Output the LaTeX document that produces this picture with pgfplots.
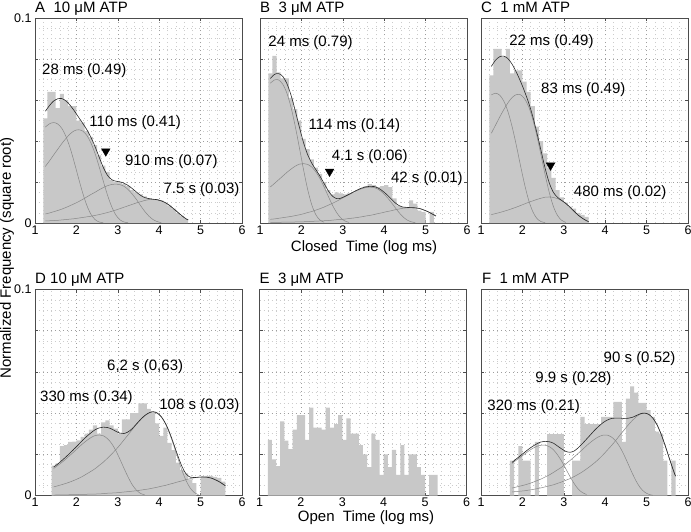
\documentclass[border=0pt]{standalone}
\usepackage{fontspec}
\setmainfont{Liberation Sans}
\usepackage{pgfplots}
\usepackage{pgfplotstable}
\pgfplotsset{compat=1.18}

\definecolor{barc}{RGB}{200,200,200}
\definecolor{compc}{RGB}{135,135,135}
\definecolor{totc}{RGB}{40,40,40}
\newcommand\fa{\fontsize{15}{17}\selectfont}

% x = bin centre (log ms), bar = histogram, tot = sum fit, c1.. = components
\pgfplotstableread{
x bar tot c1 c2 c3 c4
1.25 .051 .0545 .0468 .0276 .0044 .0010
1.35 .064 .0573 .0484 .0303 .0049 .0011
1.45 .064 .0595 .0490 .0332 .0055 .0012
1.55 .056 .0606 .0483 .0360 .0061 .0013
1.65 .063 .0607 .0461 .0388 .0068 .0015
1.75 .060 .0595 .0421 .0413 .0076 .0017
1.85 .057 .0574 .0365 .0435 .0085 .0019
1.95 .057 .0547 .0295 .0450 .0094 .0021
2.05 .050 .0517 .0220 .0455 .0104 .0024
2.15 .049 .0487 .0148 .0449 .0115 .0027
2.25 .045 .0456 .0087 .0428 .0127 .0030
2.35 .042 .0418 .0043 .0391 .0139 .0033
2.45 .038 .0373 .0017 .0339 .0150 .0037
2.55 .033 .0321 .0005 .0274 .0162 .0041
2.65 .028 .0271 .0001 .0204 .0173 .0046
2.75 .025 .0233 nan .0137 .0182 .0051
2.85 .021 .0212 nan .0081 .0188 .0057
2.95 .020 .0204 nan .0040 .0190 .0063
3.05 .020 .0201 nan .0016 .0187 .0070
3.15 .019 .0194 nan .0005 .0179 .0077
3.25 .018 .0183 nan .0001 .0163 .0084
3.35 .016 .0168 nan nan .0141 .0091
3.45 .015 .0151 nan nan .0115 .0098
3.55 .014 .0135 nan nan .0085 .0104
3.65 .013 .0124 nan nan .0057 .0110
3.75 .012 .0119 nan nan .0034 .0114
3.85 .0115 .0116 nan nan .0017 .0115
3.95 .0115 .0114 nan nan .0007 .0113
4.05 .011 .0108 nan nan .0002 .0108
4.15 .010 .0099 nan nan nan .0099
4.25 .0085 .0086 nan nan nan .0086
4.35 .007 .0069 nan nan nan .0069
4.45 .005 .0052 nan nan nan .0052
4.55 .0035 .0035 nan nan nan .0035
4.65 .002 .0020 nan nan nan .0020
4.70 nan .0015 nan nan nan .0015
}\tA

\pgfplotstableread{
x bar tot c1 c2 c3 c4
1.25 .073 .0705 .0682 .0176 .0018 .0003
1.35 .0815 .0725 .0698 .0193 .0020 .0003
1.45 .0735 .0729 .0698 .0211 .0023 .0003
1.55 .0705 .0715 .0677 .0229 .0026 .0004
1.65 .0705 .0680 .0633 .0247 .0029 .0004
1.75 .061 .0623 .0564 .0263 .0032 .0004
1.85 .0555 .0549 .0473 .0277 .0036 .0005
1.95 .050 .0469 .0369 .0287 .0040 .0006
2.05 .041 .0393 .0262 .0290 .0045 .0006
2.15 .036 .0334 .0165 .0286 .0051 .0007
2.25 .031 .0292 .0089 .0273 .0056 .0008
2.35 .027 .0260 .0040 .0249 .0063 .0009
2.45 .024 .0228 .0014 .0216 .0070 .0010
2.55 .020 .0192 .0004 .0175 .0078 .0011
2.65 .016 .0157 nan .0130 .0087 .0012
2.75 .014 .0131 nan .0087 .0096 .0014
2.85 .015 .0119 nan .0051 .0106 .0016
2.95 .0145 .0121 nan .0025 .0117 .0017
3.05 .014 .0130 nan .0010 .0128 .0019
3.15 .0145 .0140 nan .0003 .0138 .0022
3.25 .015 .0151 nan nan .0149 .0024
3.35 .016 .0161 nan nan .0159 .0027
3.45 .017 .0170 nan nan .0167 .0030
3.55 .018 .0176 nan nan .0173 .0034
3.65 .019 .0179 nan nan .0175 .0037
3.75 .0185 .0178 nan nan .0173 .0041
3.85 .0175 .0171 nan nan .0165 .0046
3.95 .018 .0158 nan nan .0150 .0050
4.05 .0185 .0141 nan nan .0130 .0055
4.15 .0175 .0121 nan nan .0106 .0059
4.25 .012 .0101 nan nan .0079 .0064
4.35 .0085 .0086 nan nan .0053 .0068
4.45 .0078 .0078 nan nan .0031 .0072
4.55 .0078 .0076 nan nan .0015 .0074
4.65 .011 .0075 nan nan .0006 .0075
4.75 .0095 .0074 nan nan .0002 .0074
4.85 .006 .0071 nan nan nan .0071
4.95 .0054 .0064 nan nan nan .0064
5.05 0 .0056 nan nan nan .0056
5.15 .0054 .0045 nan nan nan .0045
5.25 nan .0034 nan nan nan .0034
}\tB

\pgfplotstableread{
x bar tot c1 c2 c3
1.25 .072 .0764 .0625 .0438 .0041
1.35 .085 .0794 .0633 .0477 .0046
1.45 .085 .0811 .0624 .0516 .0051
1.55 .081 .0814 .0595 .0553 .0057
1.65 .085 .0802 .0544 .0586 .0063
1.75 .073 .0775 .0471 .0612 .0070
1.85 .0745 .0737 .0382 .0626 .0077
1.95 .0745 .0693 .0284 .0626 .0085
2.05 .069 .0643 .0191 .0607 .0093
2.15 .064 .0587 .0112 .0568 .0101
2.25 .057 .0520 .0056 .0506 .0108
2.35 .047 .0440 .0022 .0425 .0115
2.45 .040 .0353 .0007 .0331 .0121
2.55 .034 .0266 .0002 .0235 .0126
2.65 .027 .0195 nan .0148 .0127
2.75 .022 .0149 nan .0080 .0125
2.85 .016 .0125 nan .0036 .0119
2.95 .0125 .0110 nan .0013 .0109
3.05 .010 .0095 nan .0003 .0095
3.15 .008 .0077 nan nan .0077
3.25 .007 .0057 nan nan .0057
3.35 .005 .0038 nan nan .0038
3.45 .004 .0023 nan nan .0023
3.55 .003 .0011 nan nan .0011
3.60 nan .0007 nan nan .0007
}\tC

\pgfplotstableread{
x bar tot c1 c2 c3
1.45 .0145 .0138 .0131 .0042 .0002
1.55 .0156 .0153 .0146 .0047 .0003
1.65 .0240 .0170 .0161 .0053 .0003
1.75 .0245 .0188 .0178 .0059 .0003
1.85 .0260 .0207 .0196 .0066 .0004
1.95 .0262 .0227 .0214 .0074 .0004
2.05 .0268 .0247 .0233 .0083 .0005
2.15 .0285 .0268 .0251 .0093 .0005
2.25 .0300 .0287 .0267 .0105 .0006
2.35 .0320 .0304 .0281 .0117 .0007
2.45 .0340 .0319 .0291 .0130 .0007
2.55 .0300 .0328 .0294 .0146 .0008
2.65 .0355 .0332 .0290 .0162 .0009
2.75 .0365 .0330 .0276 .0181 .0011
2.85 .0340 .0323 .0253 .0201 .0012
2.95 .0325 .0312 .0219 .0222 .0013
3.05 .0300 .0303 .0177 .0245 .0015
3.15 .0370 .0301 .0132 .0270 .0017
3.25 .0370 .0309 .0089 .0295 .0019
3.35 .0400 .0325 .0052 .0320 .0021
3.45 .0400 .0347 .0026 .0346 .0023
3.55 .0447 .0369 .0010 .0368 .0026
3.65 .0447 .0388 .0003 .0387 .0029
3.75 .0420 .0401 nan .0400 .0032
3.85 .0400 .0407 nan .0405 .0036
3.95 .0350 .0401 nan .0399 .0040
4.05 .0290 .0383 nan .0381 .0045
4.15 .0330 .0351 nan .0348 .0049
4.25 .0255 .0306 nan .0301 .0055
4.35 .0220 .0251 nan .0244 .0060
4.45 .0160 .0193 nan .0182 .0066
4.55 .0125 .0141 nan .0122 .0071
4.65 .0108 .0105 nan .0072 .0077
4.75 .0078 .0089 nan .0036 .0082
4.85 .0060 .0087 nan .0014 .0086
4.95 0 .0089 nan .0004 .0089
5.05 .0088 .0090 nan nan .0090
5.15 .0095 .0089 nan nan .0089
5.25 .0095 .0085 nan nan .0085
5.35 .0090 .0077 nan nan .0077
5.45 .0085 .0067 nan nan .0067
5.55 .0068 .0054 nan nan .0054
5.60 nan .0047 nan nan .0047
}\tD

\pgfplotstableread{
x bar
1.25 .027
1.35 .0175
1.45 .0143
1.55 .036
1.65 .0267
1.75 .0225
1.85 .032
1.95 .039
2.05 .039
2.15 .027
2.25 .0427
2.35 .033
2.45 .033
2.55 .032
2.65 .0427
2.75 .033
2.85 .0347
2.95 .039
3.05 .027
3.15 .0375
3.25 .030
3.35 .030
3.45 .0245
3.55 .020
3.65 .0138
3.75 .030
3.85 .027
3.95 .010
4.05 .020
4.15 .0138
4.25 .0222
4.35 .010
4.45 .0245
4.55 .010
4.65 .020
4.75 .020
4.85 .0138
4.95 .010
5.05 0
5.15 .010
5.25 .010
}\tE

\pgfplotstableread{
x bar tot c1 c2 c3
1.75 .0169 .0161 .0156 .0036 .0017
1.85 0 .0177 .0171 .0041 .0019
1.95 .0240 .0193 .0186 .0046 .0021
2.05 .0169 .0209 .0201 .0051 .0023
2.15 .0169 .0225 .0216 .0057 .0026
2.25 0 .0239 .0229 .0064 .0029
2.35 .0260 .0251 .0239 .0072 .0033
2.45 0 .0260 .0244 .0080 .0037
2.55 0 .0263 .0244 .0090 .0042
2.65 .0298 .0261 .0237 .0100 .0047
2.75 .0298 .0254 .0222 .0112 .0052
2.85 .0298 .0240 .0197 .0125 .0059
2.95 .0298 .0226 .0166 .0138 .0066
3.05 0 .0214 .0129 .0154 .0074
3.15 0 .0210 .0092 .0170 .0082
3.25 .0169 .0216 .0058 .0187 .0092
3.35 .0169 .0232 .0031 .0205 .0103
3.45 .0382 .0252 .0014 .0223 .0115
3.55 .0347 .0274 .0005 .0242 .0129
3.65 .0347 .0296 nan .0259 .0144
3.75 .0347 .0318 nan .0274 .0160
3.85 .0347 .0337 nan .0286 .0178
3.95 .0382 .0354 nan .0293 .0198
4.05 .0382 .0366 nan .0293 .0220
4.15 .0382 .0374 nan .0284 .0242
4.25 .0455 .0376 nan .0266 .0266
4.35 .0455 .0376 nan .0237 .0292
4.45 .0260 .0374 nan .0199 .0316
4.55 .0470 .0375 nan .0155 .0341
4.65 .0530 .0379 nan .0110 .0363
4.75 .0500 .0388 nan .0069 .0382
4.85 .0450 .0397 nan .0037 .0395
4.95 .0450 .0400 nan .0017 .0400
5.05 .0415 .0394 nan .0006 .0394
5.15 .0382 .0376 nan .0001 .0376
5.25 .0310 .0344 nan nan .0344
5.35 .0300 .0298 nan nan .0298
5.45 .0169 .0241 nan nan .0241
5.55 0 .0180 nan nan .0180
5.65 .0169 .0120 nan nan .0120
5.70 nan .0094 nan nan .0094
}\tF

\pgfplotsset{
  panel/.style={
    scale only axis, width=207pt, height=205pt, anchor=south west,
    xmin=1, xmax=6, ymin=0, ymax=0.1,
    xtick={1,2,3,4,5,6},
    ytick={0,0.02,0.04,0.06,0.08,0.1},
    yticklabels={},
    minor x tick num=4, minor y tick num=3,
    grid=both,
    major grid style={black!38, line width=0.5pt, dash pattern=on 0.6pt off 3.4pt},
    minor grid style={black!20, line width=0.5pt, dash pattern=on 0.6pt off 3.4pt},
    tick align=inside, tick pos=both,
    major tick length=3pt, minor tick length=0pt,
    axis line style={black!70, line width=0.6pt},
    every tick/.style={black!70, line width=0.5pt},
    tick label style={font=\fontsize{12.5}{14}\selectfont},
    xticklabel style={yshift=1pt},
    /pgf/number format/assume math mode=true,
    clip=false,
  },
  hist/.style={ybar, bar width=0.1, fill=barc, draw=none},
  comp/.style={smooth, compc, line width=0.5pt},
  tot/.style={smooth, totc, line width=0.6pt},
  arrowmark/.style={only marks, mark=triangle*, mark size=5pt,
    mark options={rotate=180, fill=black, draw=black}},
}
\tikzset{lbl/.style={anchor=west, inner sep=0pt, font=\fa}}

\begin{document}
\begin{tikzpicture}
\useasboundingbox (0,0) rectangle (691pt,-531pt);

% ---------- top row: closed times ----------
\begin{axis}[panel, at={(35pt,-223pt)}, yticklabels={0,,,,,0.1}]
  \addplot[hist] table[x=x,y=bar]{\tA};
  \addplot[comp] table[x=x,y=c1]{\tA};
  \addplot[comp] table[x=x,y=c2]{\tA};
  \addplot[comp] table[x=x,y=c3]{\tA};
  \addplot[comp] table[x=x,y=c4]{\tA};
  \addplot[tot] table[x=x,y=tot]{\tA};
  \addplot[arrowmark] coordinates {(2.71,0.035)};
  \node[lbl] at (axis cs:1.17,0.0742) {28 ms (0.49)};
  \node[lbl] at (axis cs:2.31,0.0489) {110 ms (0.41)};
  \node[lbl] at (axis cs:3.17,0.0298) {910 ms (0.07)};
  \node[lbl] at (axis cs:4.10,0.0162) {7.5 s (0.03)};
\end{axis}

\begin{axis}[panel, at={(260pt,-223pt)}]
  \addplot[hist] table[x=x,y=bar]{\tB};
  \addplot[comp] table[x=x,y=c1]{\tB};
  \addplot[comp] table[x=x,y=c2]{\tB};
  \addplot[comp] table[x=x,y=c3]{\tB};
  \addplot[comp] table[x=x,y=c4]{\tB};
  \addplot[tot] table[x=x,y=tot]{\tB};
  \addplot[arrowmark] coordinates {(2.68,0.0251)};
  \node[lbl] at (axis cs:1.20,0.0881) {24 ms (0.79)};
  \node[lbl] at (axis cs:2.17,0.0477) {114 ms (0.14)};
  \node[lbl] at (axis cs:2.73,0.0325) {4.1 s (0.06)};
  \node[lbl] at (axis cs:4.16,0.0216) {42 s (0.01)};
\end{axis}

\begin{axis}[panel, at={(481pt,-223pt)}]
  \addplot[hist] table[x=x,y=bar]{\tC};
  \addplot[comp] table[x=x,y=c1]{\tC};
  \addplot[comp] table[x=x,y=c2]{\tC};
  \addplot[comp] table[x=x,y=c3]{\tC};
  \addplot[tot] table[x=x,y=tot]{\tC};
  \addplot[arrowmark] coordinates {(2.68,0.0281)};
  \node[lbl] at (axis cs:1.68,0.0884) {22 ms (0.49)};
  \node[lbl] at (axis cs:2.45,0.0652) {83 ms (0.49)};
  \node[lbl] at (axis cs:3.24,0.0149) {480 ms (0.02)};
\end{axis}

% ---------- bottom row: open times ----------
\begin{axis}[panel, height=206pt, at={(35pt,-495.5pt)}, yticklabels={0,,,,,0.1}]
  \addplot[hist] table[x=x,y=bar]{\tD};
  \addplot[comp] table[x=x,y=c1]{\tD};
  \addplot[comp] table[x=x,y=c2]{\tD};
  \addplot[comp] table[x=x,y=c3]{\tD};
  \addplot[tot] table[x=x,y=tot]{\tD};
  \node[lbl] at (axis cs:2.74,0.0624) {6,2 s (0,63)};
  \node[lbl] at (axis cs:1.12,0.0476) {330 ms (0.34)};
  \node[lbl] at (axis cs:4.00,0.0435) {108 s (0.03)};
\end{axis}

\begin{axis}[panel, height=206pt, at={(259.5pt,-495.5pt)}]
  \addplot[hist] table[x=x,y=bar]{\tE};
\end{axis}

\begin{axis}[panel, height=206pt, at={(481pt,-495.5pt)}]
  \addplot[hist] table[x=x,y=bar]{\tF};
  \addplot[comp] table[x=x,y=c1]{\tF};
  \addplot[comp] table[x=x,y=c2]{\tF};
  \addplot[comp] table[x=x,y=c3]{\tF};
  \addplot[tot] table[x=x,y=tot]{\tF};
  \node[lbl] at (axis cs:3.96,0.0665) {90 s (0.52)};
  \node[lbl] at (axis cs:2.31,0.0568) {9.9 s (0.28)};
  \node[lbl] at (axis cs:1.15,0.0431) {320 ms (0.21)};
\end{axis}

% panel titles
\begin{scope}[every node/.style={anchor=base west, inner sep=0pt, font=\fa}]
  \node at (35pt,-12pt) {A~~10 μM ATP};
  \node at (260pt,-12pt) {B~~3 μM ATP};
  \node at (481pt,-12pt) {C~~1 mM ATP};
  \node at (35pt,-283.5pt) {D 10 μM ATP};
  \node at (259.5pt,-283.5pt) {E~~3 μM ATP};
  \node at (482pt,-283.5pt) {F~~1 mM ATP};
\end{scope}

% axis titles
\node[anchor=base, inner sep=0pt, font=\fa] at (364pt,-251pt) {Closed~~Time (log ms)};
\node[anchor=base, inner sep=0pt, font=\fa] at (366pt,-521pt) {Open~~Time (log ms)};
\node[rotate=90, inner sep=0pt, font=\fontsize{15}{17}\selectfont] at (7pt,-258pt) {Normalized Frequency (square root)};
\end{tikzpicture}
\end{document}
